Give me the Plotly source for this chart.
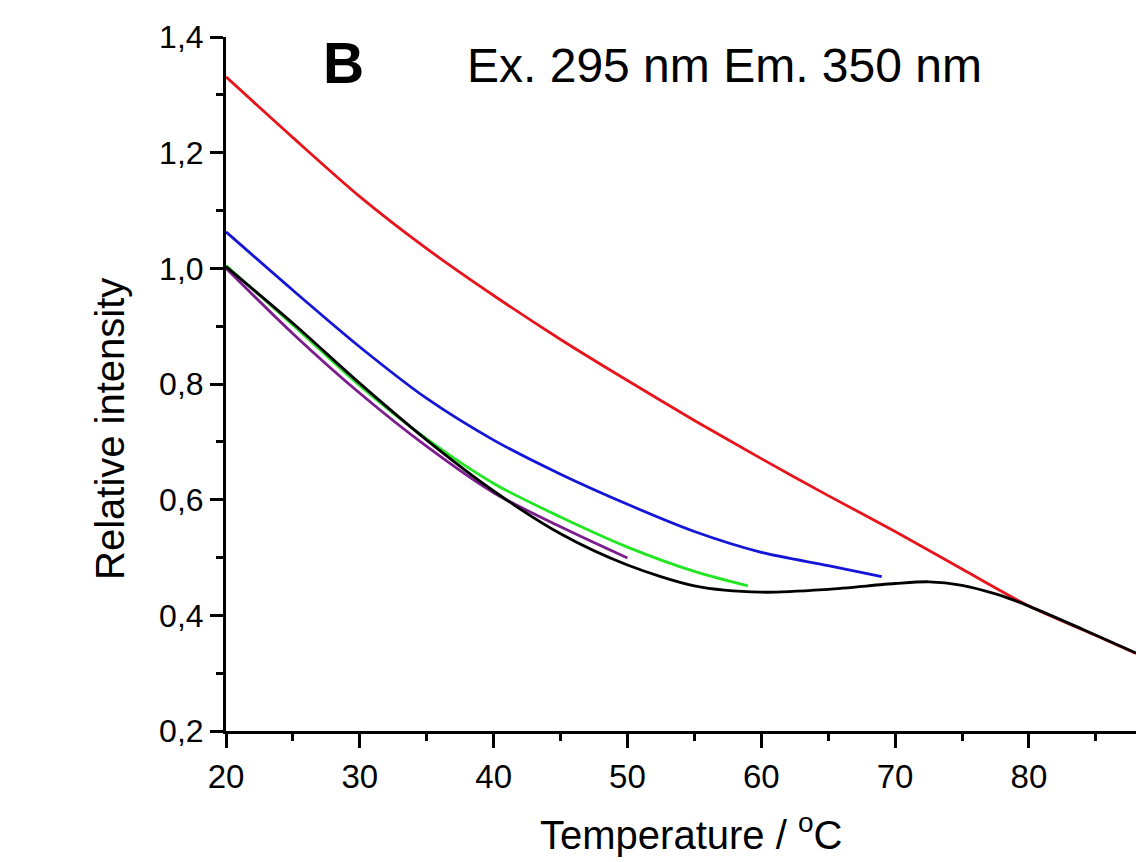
import plotly.graph_objects as go

# Temperature (°C) and relative intensity readings for each curve
red_t = [20, 25, 30, 35, 40, 45, 50, 55, 60, 65, 70, 75, 80, 85, 88]
red_i = [1.331, 1.226, 1.124, 1.034, 0.953, 0.877, 0.806, 0.737, 0.671, 0.607, 0.545, 0.480, 0.416, 0.365, 0.334]

blue_t = [20, 25, 30, 35, 40, 45, 50, 55, 60, 65, 69]
blue_i = [1.063, 0.962, 0.864, 0.775, 0.703, 0.644, 0.592, 0.545, 0.509, 0.486, 0.467]

green_t = [20, 25, 30, 35, 40, 45, 50, 55, 59]
green_i = [1.005, 0.902, 0.797, 0.705, 0.628, 0.570, 0.518, 0.476, 0.451]

purple_t = [20, 25, 30, 35, 40, 45, 50]
purple_i = [1.000, 0.887, 0.784, 0.692, 0.612, 0.553, 0.499]

black_t = [20, 25, 30, 35, 40, 45, 50, 55, 60, 65, 70, 72.5, 75, 77.5, 80, 84, 88]
black_i = [1.003, 0.905, 0.801, 0.703, 0.615, 0.541, 0.487, 0.451, 0.440, 0.445, 0.455, 0.458, 0.452, 0.437, 0.416, 0.376, 0.335]

x_ticks = [20, 30, 40, 50, 60, 70, 80]
x_tick_text = ["20", "30", "40", "50", "60", "70", "80"]
y_ticks = [0.2, 0.4, 0.6, 0.8, 1.0, 1.2, 1.4]
y_tick_text = ["0,2", "0,4", "0,6", "0,8", "1,0", "1,2", "1,4"]

FONT = "Liberation Sans, Arial, sans-serif"

fig = go.Figure()
series = [
    (red_t, red_i, "#e8141c"),
    (blue_t, blue_i, "#1515d8"),
    (green_t, green_i, "#22e622"),
    (purple_t, purple_i, "#7b1d8c"),
    (black_t, black_i, "#000000"),
]
for t, v, c in series:
    fig.add_trace(go.Scatter(x=t, y=v, mode="lines",
                             line=dict(color=c, width=2.8, shape="spline", smoothing=0.8),
                             showlegend=False, hoverinfo="skip"))

fig.update_layout(
    width=1136, height=862,
    margin=dict(l=226, r=0, t=37, b=131),
    paper_bgcolor="white", plot_bgcolor="white",
    font=dict(family=FONT, color="black"),
    xaxis=dict(
        range=[20, 88], showgrid=False, zeroline=False,
        showline=True, linecolor="black", linewidth=3,
        ticks="outside", ticklen=14, tickwidth=2.5, tickcolor="black",
        tickvals=x_ticks, ticktext=x_tick_text,
        tickfont=dict(size=33, family=FONT),
        minor=dict(ticks="outside", ticklen=7, tickwidth=2.5, tickcolor="black", dtick=5, showgrid=False),
    ),
    yaxis=dict(
        range=[0.2, 1.4], showgrid=False, zeroline=False,
        showline=True, linecolor="black", linewidth=3,
        ticks="outside", ticklen=13, tickwidth=2.5, tickcolor="black",
        tickvals=y_ticks, ticktext=y_tick_text,
        tickfont=dict(size=32, family=FONT),
        minor=dict(ticks="outside", ticklen=7, tickwidth=2.5, tickcolor="black", dtick=0.1, showgrid=False),
    ),
    annotations=[
        dict(text="<b>B</b>", xref="paper", yref="paper", x=(343 - 226) / 910, y=(731 - 63) / 694,
             xanchor="center", yanchor="middle", showarrow=False, font=dict(size=57, family=FONT)),
        dict(text="Ex. 295 nm Em. 350 nm", xref="paper", yref="paper", x=(465 - 226) / 910, y=(731 - 66) / 694,
             xanchor="left", yanchor="middle", showarrow=False, font=dict(size=48, family=FONT)),
        dict(text="Relative intensity", xref="paper", yref="paper", x=(110 - 226) / 910, y=(731 - 429) / 694,
             xanchor="center", yanchor="middle", textangle=-90, showarrow=False,
             font=dict(size=40, family=FONT)),
        dict(text="Temperature / <sup>o</sup>C", xref="paper", yref="paper", x=(691 - 226) / 910,
             y=(731 - 832) / 694, xanchor="center", yanchor="middle", showarrow=False,
             font=dict(size=40, family=FONT)),
    ],
)

fig.write_html("out.html")
